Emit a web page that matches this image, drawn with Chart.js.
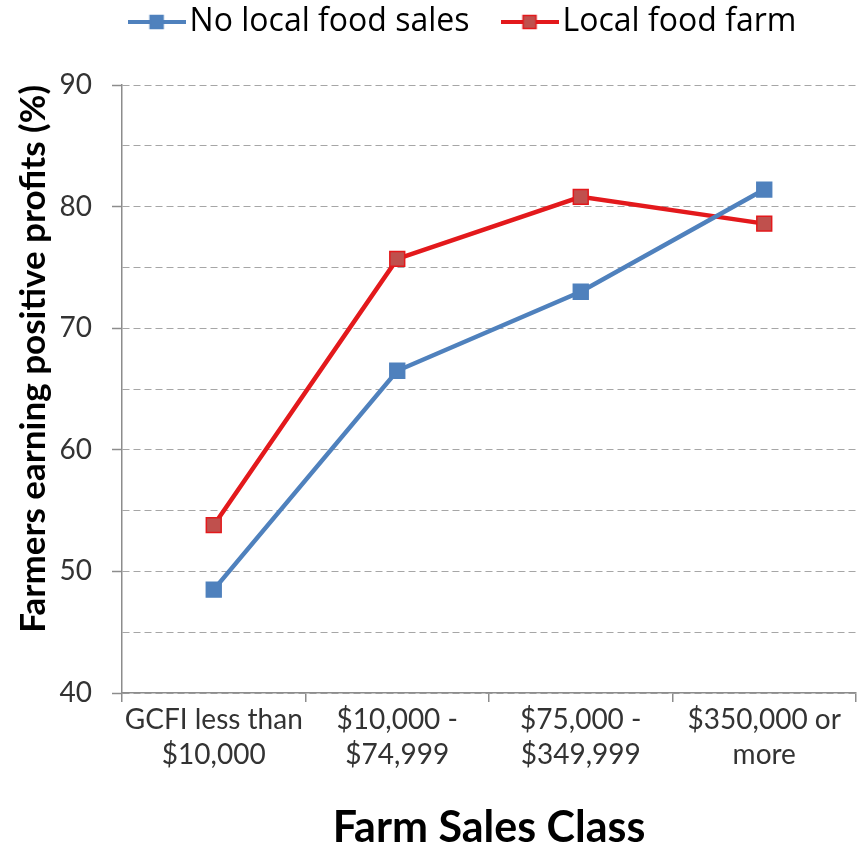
<!DOCTYPE html>
<html>
<head>
<meta charset="utf-8">
<script src="https://cdn.jsdelivr.net/npm/chart.js@4/dist/chart.umd.min.js"></script>
<style>
  html, body { margin: 0; padding: 0; background: #fff; }
  #wrap { width: 860px; height: 851px; }
</style>
</head>
<body>
<div id="wrap"><canvas id="chart" width="860" height="851"></canvas></div>
<script>
const categories = [
  ['GCFI less than', '$10,000'],
  ['$10,000 -', '$74,999'],
  ['$75,000 -', '$349,999'],
  ['$350,000 or', 'more'],
];
const noLocalSales = [48.5, 66.5, 73.0, 81.4];
const localFoodFarm = [53.8, 75.7, 80.8, 78.6];
const yLabels = [40, 50, 60, 70, 80, 90];

const BLUE = '#4F81BD';
const RED_LINE = '#E3191C';
const RED_FILL = '#C0504D';
const GRID = '#A6A6A6';
const AXIS = '#8C8C8C';
const FONT = 'Lato, "Open Sans", sans-serif';

// legend marker: short line with a square on it, like the spreadsheet legend
function legendMarker(line, fill, border) {
  const c = document.createElement('canvas');
  c.width = 58;
  c.height = 16;
  const g = c.getContext('2d');
  g.strokeStyle = line;
  g.lineWidth = 4;
  g.beginPath();
  g.moveTo(0, 8);
  g.lineTo(58, 8);
  g.stroke();
  g.fillStyle = fill;
  g.fillRect(22, 1, 14, 14);
  g.strokeStyle = border;
  g.lineWidth = 1.5;
  g.strokeRect(22.5, 1.5, 13, 13);
  return c;
}

const markers = [
  legendMarker(BLUE, BLUE, BLUE),
  legendMarker(RED_LINE, RED_FILL, RED_LINE),
];

// leave room between the legend and the plot, and sit the legend a bit right of centre
const legendSpace = {
  id: 'legendSpace',
  beforeInit(chart) {
    const fit = chart.legend.fit;
    chart.legend.fit = function () {
      fit.call(this);
      this.height = 122;
    };
  },
  afterLayout(chart) {
    chart.legend.left += 40;
    chart.legend.right += 40;
  },
};

function series(label, data, line, fill, border) {
  return {
    label,
    data,
    borderColor: line,
    backgroundColor: fill,
    borderWidth: 4.5,
    pointStyle: 'rect',
    pointRadius: 10.5,
    pointBackgroundColor: fill,
    pointBorderColor: border,
    pointBorderWidth: 1.5,
    tension: 0,
  };
}

new Chart(document.getElementById('chart'), {
  type: 'line',
  data: {
    labels: categories,
    datasets: [
      series('No local food sales', noLocalSales, BLUE, BLUE, BLUE),
      series('Local food farm', localFoodFarm, RED_LINE, RED_FILL, RED_LINE),
    ],
  },
  plugins: [legendSpace],
  options: {
    responsive: false,
    animation: false,
    layout: { autoPadding: false, padding: { left: 0, right: 4, top: -37, bottom: 0 } },
    plugins: {
      tooltip: { enabled: false },
      legend: {
        position: 'top',
        labels: {
          usePointStyle: true,
          pointStyleWidth: 34,
          padding: 43,
          color: '#000',
          font: { family: '"Open Sans", Lato, sans-serif', size: 32 },
          generateLabels: (chart) => chart.data.datasets.map((ds, i) => ({
            text: ds.label,
            pointStyle: markers[i],
            fillStyle: ds.backgroundColor,
            strokeStyle: ds.borderColor,
            lineWidth: 0,
            datasetIndex: i,
            fontColor: '#000',
          })),
        },
      },
    },
    scales: {
      x: {
        offset: true,
        afterFit: (scale) => {
          scale.height = 158;
          scale.paddingLeft = 0;
          scale.paddingRight = 0;
        },
        grid: {
          display: true,
          offset: true,
          drawOnChartArea: false,
          drawTicks: true,
          tickLength: 9,
          color: AXIS,
          lineWidth: 1.5,
        },
        border: { display: true, color: AXIS, width: 1.5 },
        ticks: {
          color: '#333',
          font: { family: FONT, size: 28, lineHeight: 1.25 },
          maxRotation: 0,
          autoSkip: false,
          padding: 0,
        },
        title: {
          display: true,
          text: 'Farm Sales Class',
          color: '#000',
          font: { family: FONT, size: 43, weight: 'bold', lineHeight: 1 },
          padding: { top: 0, bottom: 1 },
        },
      },
      y: {
        min: 40,
        max: 90,
        afterFit: (scale) => { scale.width = 122; },
        ticks: {
          stepSize: 5,
          color: '#333',
          font: { family: FONT, size: 28 },
          padding: 20,
          callback: (v) => (yLabels.includes(v) ? v : ''),
        },
        grid: {
          color: GRID,
          lineWidth: 1,
          tickLength: 10,
          tickColor: (ctx) => (ctx.tick && yLabels.includes(ctx.tick.value) ? AXIS : 'rgba(0,0,0,0)'),
          tickWidth: 1.5,
          tickBorderDash: [],
        },
        border: { display: true, color: AXIS, width: 1.5, dash: [7, 4] },
        title: {
          display: true,
          text: 'Farmers earning positive profits (%)',
          align: 'end',
          color: '#000',
          font: { family: FONT, size: 35, weight: 'bold' },
          padding: { top: 13, bottom: 0 },
        },
      },
    },
  },
});
</script>
</body>
</html>
